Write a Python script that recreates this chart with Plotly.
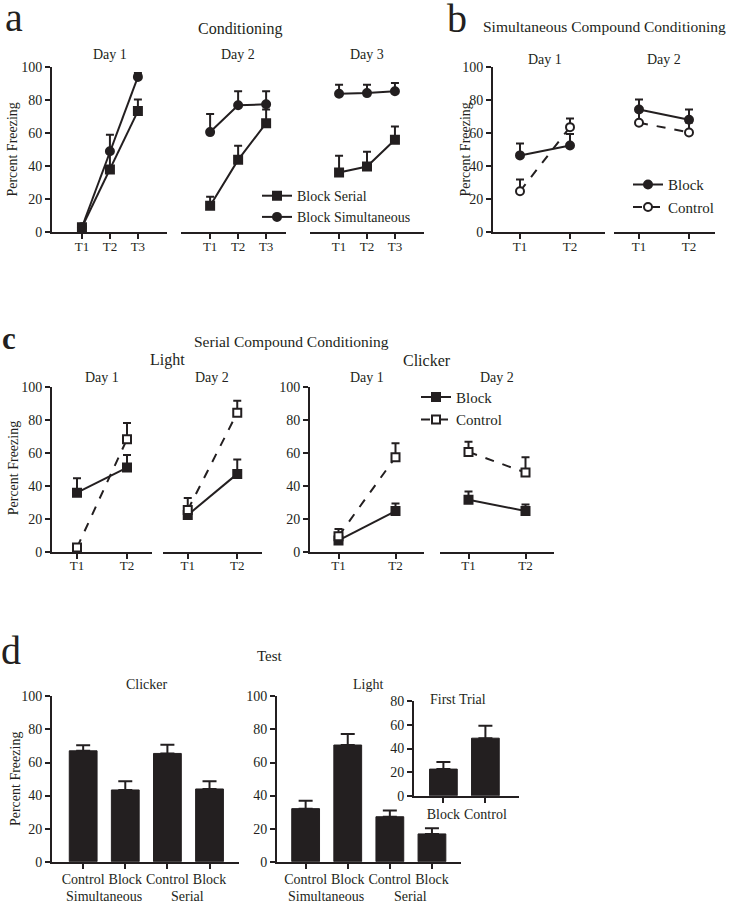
import plotly.graph_objects as go

W, H = 729, 910
FONT = "Liberation Serif, Times New Roman, DejaVu Serif, serif"


def px(x):
    return x / W


def py(y):
    return 1 - y / H


# ---------------- data ----------------
trials3 = [1, 2, 3]
trials2 = [1, 2]
tick3 = ["T1", "T2", "T3"]
tick2 = ["T1", "T2"]

# Panel a: Conditioning (Day 1..3)
a_days = ["Day 1", "Day 2", "Day 3"]
a_serial = [[3, 38, 73.3], [16, 43.8, 66], [36.2, 39.8, 56]]
a_serial_err = [[1, 10, 7], [5.4, 8.5, 8.3], [10.1, 8.9, 8]]
a_simul = [[3, 49, 94], [60.6, 76.8, 77.4], [83.8, 84.2, 85.3]]
a_simul_err = [[1, 10, 2.4], [10.9, 8.5, 7.9], [5.5, 5.1, 5]]

# Panel b: Simultaneous compound conditioning
b_days = ["Day 1", "Day 2"]
b_block = [[46.5, 52.5], [74.3, 68.1]]
b_block_err = [[7.2, 6.9], [6.1, 6.2]]
b_control = [[24.8, 63.6], [66.3, 60.4]]
b_control_err = [[7.1, 5.3], [7, 6]]

# Panel c: Serial compound conditioning (Light, Clicker)
c_light_block = [[35.8, 51], [22.3, 47.2]]
c_light_block_err = [[8.7, 7.7], [3, 8.7]]
c_light_control = [[2.6, 68.2], [25.3, 84.2]]
c_light_control_err = [[1, 9.8], [7.3, 7.3]]
c_click_block = [[6.9, 24.7], [31.6, 24.7]]
c_click_block_err = [[2, 4.5], [5, 4]]
c_click_control = [[9.5, 57.3], [60.5, 48]]
c_click_control_err = [[4.3, 8.5], [6.1, 9.3]]

# Panel d: Test
d_groups = ["Control", "Block", "Control", "Block"]
d_clicker = [67.1, 43.4, 65.5, 44]
d_clicker_err = [3.3, 5.3, 5.3, 4.7]
d_light = [32.1, 70.6, 27.2, 16.8]
d_light_err = [4.8, 6.7, 3.8, 3.5]
d_first_groups = ["Block", "Control"]
d_first = [22.6, 48.8]
d_first_err = [6.1, 10.5]

pct_ticks = [0, 20, 40, 60, 80, 100]
inset_ticks = [0, 20, 40, 60, 80]

# ---------------- layout helpers ----------------
layout = dict(
    width=W, height=H,
    margin=dict(l=0, r=0, t=0, b=0),
    paper_bgcolor="white",
    plot_bgcolor="rgba(0,0,0,0)",
    font=dict(family=FONT, color="#231f20", size=14),
    showlegend=True,
    annotations=[],
)
fig = go.Figure()


def add_axes(i, xpx, ypx, xrange, tickvals, ticktext, show_y, yrange=(0, 100),
             ytickvals=pct_ticks, xfont=13, standoff=-4):
    xa = "xaxis" if i == 1 else f"xaxis{i}"
    ya = "yaxis" if i == 1 else f"yaxis{i}"
    common = dict(showline=True, linecolor="#231f20", linewidth=2,
                  ticks="outside", ticklen=5, tickwidth=2, tickcolor="#231f20",
                  showgrid=False, zeroline=False, fixedrange=True)
    layout[xa] = dict(domain=[px(xpx[0]), px(xpx[1])], range=list(xrange),
                      anchor="y" if i == 1 else f"y{i}",
                      tickmode="array", tickvals=tickvals, ticktext=ticktext,
                      tickangle=0, ticklabelstandoff=standoff,
                      tickfont=dict(family=FONT, size=xfont, color="#231f20"),
                      **common)
    layout[ya] = dict(domain=[py(ypx[1]), py(ypx[0])], range=list(yrange),
                      anchor="x" if i == 1 else f"x{i}",
                      tickmode="array", tickvals=ytickvals,
                      tickfont=dict(family=FONT, size=14, color="#231f20"),
                      visible=show_y, **common)


def refs(i):
    return ("x", "y") if i == 1 else (f"x{i}", f"y{i}")


def line_trace(i, x, y, err, name, symbol, filled, dash, legend, show):
    xr, yr = refs(i)
    fig.add_trace(go.Scatter(
        x=x, y=y, xaxis=xr, yaxis=yr, name=name, mode="lines+markers",
        line=dict(color="#231f20", width=2, dash=dash),
        marker=dict(symbol=symbol, size=8,
                    color="#231f20" if filled else "white",
                    line=dict(color="#231f20", width=2)),
        error_y=dict(type="data", array=err, arrayminus=[0] * len(err),
                     symmetric=False, color="#231f20", thickness=2, width=4),
        cliponaxis=False, legend=legend, showlegend=show,
    ))


def bar_trace(i, y, err):
    xr, yr = refs(i)
    fig.add_trace(go.Bar(
        x=list(range(len(y))), y=y, xaxis=xr, yaxis=yr, width=0.66,
        marker=dict(color="#231f20", line=dict(color="#231f20", width=1)),
        error_y=dict(type="data", array=err, arrayminus=[0] * len(err),
                     symmetric=False, color="#231f20", thickness=2, width=7),
        showlegend=False,
    ))


def text(x, y, s, size=14, angle=0, bold=False, xanchor="center"):
    layout["annotations"].append(dict(
        x=px(x), y=py(y), xref="paper", yref="paper", text=f"<b>{s}</b>" if bold else s,
        showarrow=False, textangle=angle, xanchor=xanchor, yanchor="middle",
        font=dict(family=FONT, size=size, color="#231f20")))


# ---------------- panel a ----------------
a_x = [(52, 167), (181, 286), (310, 424)]
a_rng = [(-0.07, 4.04), (-0.04, 3.71), (-0.04, 4.04)]
for d in range(3):
    i = d + 1
    add_axes(i, a_x[d], (61, 229), a_rng[d], trials3, tick3, d == 0)
    line_trace(i, trials3, a_serial[d], a_serial_err[d], "Block Serial", "square",
               True, "solid", "legend", d == 0)
    line_trace(i, trials3, a_simul[d], a_simul_err[d], "Block Simultaneous", "circle",
               True, "solid", "legend", d == 0)
text(240, 22, "Conditioning", 16)
for d, cx in enumerate([110, 238, 367]):
    text(cx, 48, a_days[d], 14)
text(13, 145, "Percent Freezing", 14, -90)
text(14, 11, "a", 40)

# ---------------- panel b ----------------
b_x = [(493, 605), (614, 715)]
b_rng = [(0.46, 2.7), (0.5, 2.52)]
for d in range(2):
    i = 4 + d
    add_axes(i, b_x[d], (61, 229), b_rng[d], trials2, tick2, d == 0)
    line_trace(i, trials2, b_block[d], b_block_err[d], "Block", "circle",
               True, "solid", "legend2", d == 0)
    line_trace(i, trials2, b_control[d], b_control_err[d], "Control", "circle",
               False, "dash", "legend2", d == 0)
text(728, 20, "Simultaneous Compound Conditioning", 15.5, xanchor="right")
text(545, 53, b_days[0], 14)
text(664, 53, b_days[1], 14)
text(466, 145, "Percent Freezing", 14, -90)
text(457, 12, "b", 40)

# ---------------- panel c ----------------
c_x = [(52, 152), (163, 262), (310, 424), (440, 554)]
c_sets = [
    (c_light_block[0], c_light_block_err[0], c_light_control[0], c_light_control_err[0]),
    (c_light_block[1], c_light_block_err[1], c_light_control[1], c_light_control_err[1]),
    (c_click_block[0], c_click_block_err[0], c_click_control[0], c_click_control_err[0]),
    (c_click_block[1], c_click_block_err[1], c_click_control[1], c_click_control_err[1]),
]
for k in range(4):
    i = 6 + k
    add_axes(i, c_x[k], (386, 554), (0.5, 2.5), trials2, tick2, k in (0, 2))
    bl, ble, co, coe = c_sets[k]
    line_trace(i, trials2, bl, ble, "Block", "square", True, "solid", "legend3", k == 0)
    line_trace(i, trials2, co, coe, "Control", "square", False, "dash", "legend3", k == 0)
text(291, 340, "Serial Compound Conditioning", 15.5)
text(167, 359, "Light", 16)
text(427, 359, "Clicker", 16)
for cx, s in zip([102, 212, 367, 497], ["Day 1", "Day 2", "Day 1", "Day 2"]):
    text(cx, 377, s, 14)
text(13, 469, "Percent Freezing", 14, -90)
text(9, 337, "c", 31, bold=True)

# ---------------- panel d ----------------
add_axes(10, (52, 239), (701, 869), (-0.74, 3.7), [0, 1, 2, 3], d_groups, True,
         xfont=14, standoff=-1)
bar_trace(10, d_clicker, d_clicker_err)
add_axes(11, (277, 461), (701, 869), (-0.68, 3.69), [0, 1, 2, 3], d_groups, True,
         xfont=14, standoff=-1)
bar_trace(11, d_light, d_light_err)
add_axes(12, (414, 519), (706, 802), (-0.7, 1.8), [0, 1], d_first_groups, True,
         yrange=(0, 80), ytickvals=inset_ticks, xfont=14, standoff=-1)
bar_trace(12, d_first, d_first_err)
text(270, 660, "Test", 15)
text(147, 689, "Clicker", 14)
text(368, 689, "Light", 14)
text(458, 704, "First Trial", 14)
text(104, 904, "Simultaneous", 14)
text(188, 904, "Serial", 14)
text(326, 904, "Simultaneous", 14)
text(410, 904, "Serial", 14)
text(15, 785, "Percent Freezing", 14, -90)
text(11, 654, "d", 40)

# ---------------- legends ----------------
leg_common = dict(bgcolor="rgba(0,0,0,0)", borderwidth=0, xanchor="left", yanchor="top",
                  itemclick=False, itemdoubleclick=False, tracegroupgap=0)
layout["legend"] = dict(x=px(257), y=py(176),
                        font=dict(family=FONT, size=14, color="#231f20"), **leg_common)
layout["legend2"] = dict(x=px(628), y=py(164),
                         font=dict(family=FONT, size=15, color="#231f20"), **leg_common)
layout["legend3"] = dict(x=px(416), y=py(380),
                         font=dict(family=FONT, size=15, color="#231f20"), **leg_common)

fig.update_layout(**layout)
fig.write_html(
    "out.html",
    config={"displayModeBar": False, "responsive": False},
    post_script=("document.documentElement.style.margin='0px';"
                 "document.body.style.margin='0px';"
                 "document.body.style.overflow='hidden';"),
)
